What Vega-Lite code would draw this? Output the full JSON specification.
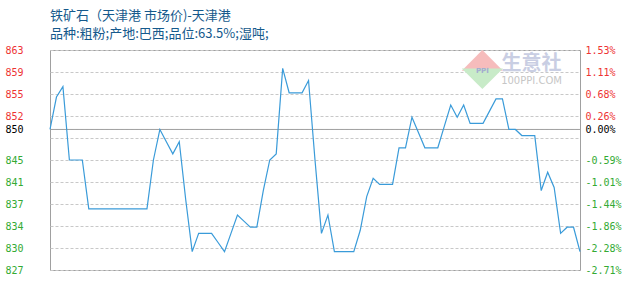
{
  "$schema": "https://vega.github.io/schema/vega-lite/v6.json",
  "width": 530,
  "height": 220,
  "autosize": "none",
  "padding": {"left": 50, "top": 50, "right": 50, "bottom": 30},
  "background": "white",
  "title": {
    "text": "铁矿石（天津港 市场价)-天津港",
    "subtitle": "品种:粗粉;产地:巴西;品位:63.5%;湿吨;",
    "anchor": "start",
    "frame": "group",
    "font": "Noto Sans CJK SC",
    "fontSize": 13,
    "fontWeight": "normal",
    "color": "#15598c",
    "subtitleFont": "Noto Sans CJK SC",
    "subtitleFontSize": 13,
    "subtitleColor": "#15598c",
    "subtitlePadding": 5,
    "offset": 4
  },
  "config": {
    "view": {"stroke": "#a0a0a0", "strokeWidth": 1},
    "axis": {"domain": false, "ticks": false, "tickSize": 0, "title": null, "labelFont": "DejaVu Sans Mono", "labelFontSize": 10}
  },
  "datasets": {
    "price": [
      {"date": "2023-09-24", "price": 850},
      {"date": "2023-09-25", "price": 855.3},
      {"date": "2023-09-26", "price": 857},
      {"date": "2023-09-27", "price": 845},
      {"date": "2023-09-28", "price": 845},
      {"date": "2023-09-29", "price": 845},
      {"date": "2023-09-30", "price": 837},
      {"date": "2023-10-01", "price": 837},
      {"date": "2023-10-02", "price": 837},
      {"date": "2023-10-03", "price": 837},
      {"date": "2023-10-04", "price": 837},
      {"date": "2023-10-05", "price": 837},
      {"date": "2023-10-06", "price": 837},
      {"date": "2023-10-07", "price": 837},
      {"date": "2023-10-08", "price": 837},
      {"date": "2023-10-09", "price": 837},
      {"date": "2023-10-10", "price": 845},
      {"date": "2023-10-11", "price": 850},
      {"date": "2023-10-12", "price": 848},
      {"date": "2023-10-13", "price": 846},
      {"date": "2023-10-14", "price": 848},
      {"date": "2023-10-15", "price": 838.5},
      {"date": "2023-10-16", "price": 830},
      {"date": "2023-10-17", "price": 833},
      {"date": "2023-10-18", "price": 833},
      {"date": "2023-10-19", "price": 833},
      {"date": "2023-10-20", "price": 831.5},
      {"date": "2023-10-21", "price": 830},
      {"date": "2023-10-22", "price": 833},
      {"date": "2023-10-23", "price": 836},
      {"date": "2023-10-24", "price": 835},
      {"date": "2023-10-25", "price": 834},
      {"date": "2023-10-26", "price": 834},
      {"date": "2023-10-27", "price": 840},
      {"date": "2023-10-28", "price": 845},
      {"date": "2023-10-29", "price": 846},
      {"date": "2023-10-30", "price": 860},
      {"date": "2023-10-31", "price": 856},
      {"date": "2023-11-01", "price": 856},
      {"date": "2023-11-02", "price": 856},
      {"date": "2023-11-03", "price": 858},
      {"date": "2023-11-04", "price": 845},
      {"date": "2023-11-05", "price": 833},
      {"date": "2023-11-06", "price": 836},
      {"date": "2023-11-07", "price": 830},
      {"date": "2023-11-08", "price": 830},
      {"date": "2023-11-09", "price": 830},
      {"date": "2023-11-10", "price": 830},
      {"date": "2023-11-11", "price": 833.5},
      {"date": "2023-11-12", "price": 839},
      {"date": "2023-11-13", "price": 842},
      {"date": "2023-11-14", "price": 841},
      {"date": "2023-11-15", "price": 841},
      {"date": "2023-11-16", "price": 841},
      {"date": "2023-11-17", "price": 847},
      {"date": "2023-11-18", "price": 847},
      {"date": "2023-11-19", "price": 852},
      {"date": "2023-11-20", "price": 849.5},
      {"date": "2023-11-21", "price": 847},
      {"date": "2023-11-22", "price": 847},
      {"date": "2023-11-23", "price": 847},
      {"date": "2023-11-24", "price": 850.5},
      {"date": "2023-11-25", "price": 854},
      {"date": "2023-11-26", "price": 852},
      {"date": "2023-11-27", "price": 854},
      {"date": "2023-11-28", "price": 851},
      {"date": "2023-11-29", "price": 851},
      {"date": "2023-11-30", "price": 851},
      {"date": "2023-12-01", "price": 853},
      {"date": "2023-12-02", "price": 855},
      {"date": "2023-12-03", "price": 855},
      {"date": "2023-12-04", "price": 850},
      {"date": "2023-12-05", "price": 850},
      {"date": "2023-12-06", "price": 849},
      {"date": "2023-12-07", "price": 849},
      {"date": "2023-12-08", "price": 849},
      {"date": "2023-12-09", "price": 840},
      {"date": "2023-12-10", "price": 843},
      {"date": "2023-12-11", "price": 840.5},
      {"date": "2023-12-12", "price": 833},
      {"date": "2023-12-13", "price": 834},
      {"date": "2023-12-14", "price": 834},
      {"date": "2023-12-15", "price": 830}
    ],
    "base": [{"date": "2023-09-24", "price": 850}],
    "logo": [
      {"date": "2023-11-29T21:30:00Z", "price": 861.3, "part": "up"},
      {"date": "2023-11-29T21:30:00Z", "price": 858.3, "part": "down"}
    ],
    "wm_icon": [{"date": "2023-11-29T21:30:00Z", "price": 859.6, "label": "PPI"}],
    "wm_name": [{"date": "2023-12-07T12:00:00Z", "price": 860.7, "label": "生意社"}],
    "wm_site": [{"date": "2023-12-07T12:00:00Z", "price": 857.9, "label": "100PPI.COM"}]
  },
  "resolve": {"axis": {"y": "independent"}},
  "layer": [
    {
      "data": {"name": "base"},
      "mark": {"type": "rule", "color": "#a0a0a0", "strokeWidth": 1},
      "encoding": {
        "y": {
          "field": "price",
          "type": "quantitative",
          "scale": {"domain": [827, 863], "nice": false, "zero": false},
          "axis": {
            "orient": "right",
            "values": [827, 830.6, 834.2, 837.8, 841.4, 845, 850, 852.2, 855.8, 859.4, 863],
            "grid": false,
            "labelAlign": "left",
            "labelBaseline": "middle",
            "labelPadding": 5,
            "labelExpr": "replace(format((datum.value - 850) / 850, '.2%'), '\u2212', '-')",
            "labelColor": {
              "condition": [
                {"test": "datum.value > 850.01", "value": "#ee3333"},
                {"test": "datum.value > 849.99", "value": "#000000"}
              ],
              "value": "#33aa33"
            }
          }
        }
      }
    },
    {
      "data": {"name": "logo"},
      "mark": {"type": "point", "filled": true, "size": 1700, "opacity": 1, "strokeWidth": 0},
      "encoding": {
        "x": {"field": "date", "type": "temporal", "axis": null},
        "y": {"field": "price", "type": "quantitative", "axis": null},
        "shape": {
          "field": "part",
          "type": "nominal",
          "scale": {"domain": ["up", "down"], "range": ["M-1,0.5L1,0.5L0,-0.5Z", "M-1,-0.5L1,-0.5L0,0.5Z"]},
          "legend": null
        },
        "color": {
          "field": "part",
          "type": "nominal",
          "scale": {"domain": ["up", "down"], "range": ["#f6bcbc", "#c8ebc8"]},
          "legend": null
        }
      }
    },
    {
      "data": {"name": "wm_icon"},
      "mark": {"type": "text", "align": "center", "baseline": "middle", "fontSize": 7, "fontWeight": "bold", "font": "DejaVu Sans", "color": "#a3aad0"},
      "encoding": {
        "x": {"field": "date", "type": "temporal", "axis": null},
        "y": {"field": "price", "type": "quantitative", "axis": null},
        "text": {"field": "label"}
      }
    },
    {
      "data": {"name": "wm_name"},
      "mark": {"type": "text", "align": "center", "baseline": "middle", "fontSize": 20, "fontWeight": "bold", "font": "Noto Sans CJK SC", "color": "#c9cee3"},
      "encoding": {
        "x": {"field": "date", "type": "temporal", "axis": null},
        "y": {"field": "price", "type": "quantitative", "axis": null},
        "text": {"field": "label"}
      }
    },
    {
      "data": {"name": "wm_site"},
      "mark": {"type": "text", "align": "center", "baseline": "middle", "fontSize": 10, "font": "DejaVu Sans", "color": "#c6c6c6"},
      "encoding": {
        "x": {"field": "date", "type": "temporal", "axis": null},
        "y": {"field": "price", "type": "quantitative", "axis": null},
        "text": {"field": "label"}
      }
    },
    {
      "data": {"name": "price"},
      "mark": {"type": "line", "color": "#3a9bd9", "strokeWidth": 1.2, "interpolate": "linear"},
      "encoding": {
        "x": {
          "field": "date",
          "type": "temporal",
          "scale": {
            "type": "utc",
            "nice": false,
            "domain": [
              {"year": 2023, "month": 9, "date": 24, "utc": true},
              {"year": 2023, "month": 12, "date": 15, "utc": true}
            ]
          },
          "axis": {
            "values": [
              {"year": 2023, "month": 9, "date": 24, "utc": true},
              {"year": 2023, "month": 10, "date": 2, "utc": true},
              {"year": 2023, "month": 10, "date": 10, "utc": true},
              {"year": 2023, "month": 10, "date": 18, "utc": true},
              {"year": 2023, "month": 10, "date": 26, "utc": true},
              {"year": 2023, "month": 11, "date": 3, "utc": true},
              {"year": 2023, "month": 11, "date": 11, "utc": true},
              {"year": 2023, "month": 11, "date": 19, "utc": true},
              {"year": 2023, "month": 11, "date": 27, "utc": true},
              {"year": 2023, "month": 12, "date": 5, "utc": true},
              {"year": 2023, "month": 12, "date": 13, "utc": true}
            ],
            "grid": true,
            "gridColor": "#c8c8c8",
            "gridDash": [3, 2],
            "labelColor": "#0e5a8c",
            "labelPadding": 11,
            "labelAlign": "center",
            "labelBaseline": "top",
            "labelFlush": false,
            "labelOverlap": false,
            "labelExpr": "utcFormat(datum.value, '%m/%d') == '12/13' ? '12/15' : utcFormat(datum.value, '%m/%d')"
          }
        },
        "y": {
          "field": "price",
          "type": "quantitative",
          "scale": {"domain": [827, 863], "nice": false, "zero": false},
          "axis": {
            "orient": "left",
            "values": [827, 830.6, 834.2, 837.8, 841.4, 845, 848.6, 850, 852.2, 855.8, 859.4, 863],
            "grid": true,
            "gridColor": "#c8c8c8",
            "gridDash": [3, 2],
            "labelAlign": "left",
            "labelBaseline": "middle",
            "labelPadding": 45,
            "labelExpr": "datum.value > 848.5 && datum.value < 848.7 ? '' : '' + floor(datum.value + 0.001)",
            "labelColor": {
              "condition": [
                {"test": "datum.value > 850.01", "value": "#ee3333"},
                {"test": "datum.value > 849.99", "value": "#000000"}
              ],
              "value": "#33aa33"
            }
          }
        }
      }
    }
  ]
}
